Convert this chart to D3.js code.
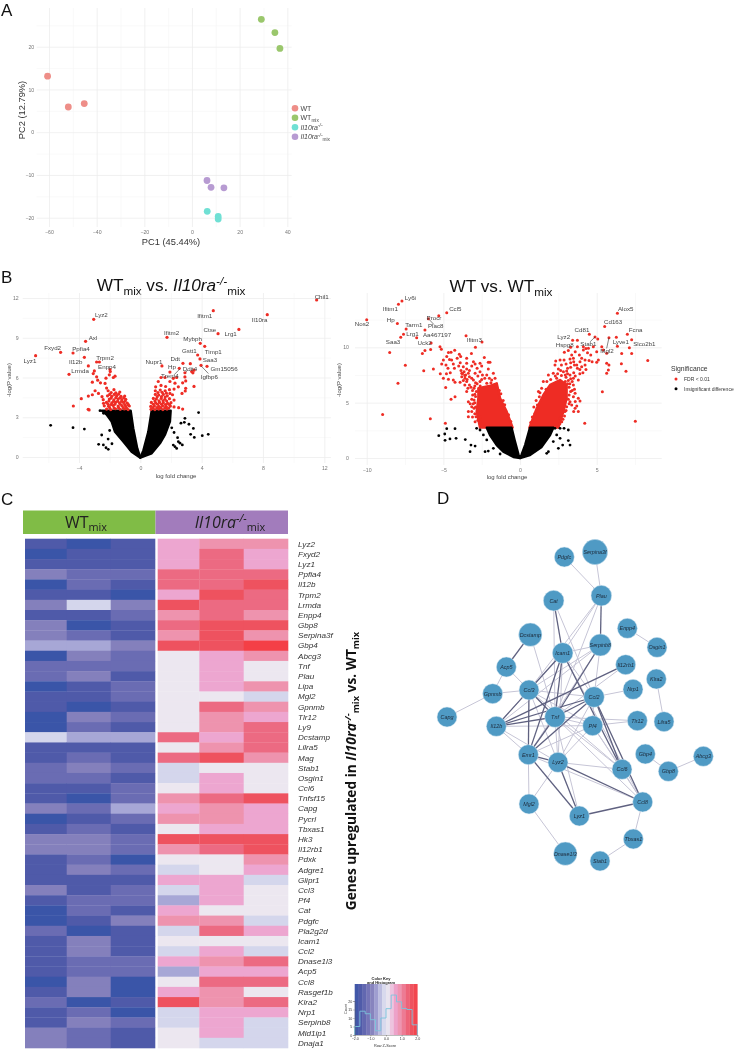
<!DOCTYPE html>
<html><head><meta charset="utf-8">
<script src="https://cdnjs.cloudflare.com/ajax/libs/d3/7.8.5/d3.min.js"></script>
<style>
html,body{margin:0;padding:0;background:#fff}
svg{display:block;filter:blur(0.4px)}
text{font-family:"Liberation Sans",Arial,sans-serif}
</style></head><body><svg id="c" width="737" height="1050"></svg>
<script>
/* ---------- Panel A data ---------- */
const pcaNames = ["WT","WTmix","Il10ra-/-","Il10ra-/-mix"];
const pcaColors = ["#ee8e88","#9ac76c","#70e0d4","#b79bd2"];
const pcaWT = [[-60.6,13.1],[-51.9,5.9],[-45.2,6.7]];
const pcaWTmix = [[29.1,26.4],[34.8,23.3],[36.9,19.6]];
const pcaKO = [[6.4,-18.5],[11.0,-19.7],[11.0,-20.3]];
const pcaKOmix = [[6.3,-11.3],[8.0,-12.9],[13.4,-13.0]];

/* ---------- Panel B left ---------- */
const v1LabelNames = ["Chil1","Il10ra","Ifitm1","Lrg1","Ctse","Lyz2","Axl","Fxyd2","Ppfia4","Lyz1","Il12b","Trpm2","Enpp4","Lrmda","Ifitm2","Mybph","Timp1","Gstt1","Ddt","Nupr1","Hp","Saa3","Ddit4","Gm15056","Igfbp6","Trem4"];
const v1LabelX = [11.83,7.78,4.2,5.89,4.54,-2.54,-3.09,-5.72,-3.87,-7.2,-4.22,-2.3,-2.17,-3.93,2.04,3.41,4.76,3.2,2.28,0.89,2.07,4.54,3.24,5.46,4.5,1.93];
const v1LabelY = [12.09,10.39,10.69,9.26,9.61,10.72,9.0,8.25,8.2,7.27,7.17,7.52,6.79,6.52,9.38,8.9,7.97,8.0,7.4,7.2,6.79,7.3,6.67,6.69,6.06,6.09];
const v1Red = [[11.5,11.85],[8.28,10.74],[4.76,11.04],[6.43,9.63],[5.07,9.31],[-3.04,10.39],[-3.57,8.73],[-5.2,7.9],[-4.39,7.85],[-6.83,7.65],[-3.65,7.52],[-3.39,6.87],[-2.85,7.17],[-2.67,7.17],[-4.65,6.24],
[-3.0,6.5],[-3.07,6.3],[-1.98,6.6],[-1.96,6.45],[-2.02,6.2],[-1.65,6.1],[-1.76,6.0],[-2.24,5.95],[-2.85,6.05],[-2.78,5.8],[-2.6,5.6],[-3.13,5.65],[-2.3,5.55],[-2.2,5.2],[-2.95,5.0],[-3.13,4.7],[-3.39,4.6],[-3.85,4.4],[-4.37,3.85],[-3.4,3.6],[-3.34,3.55],[-2.73,4.8],[-2.5,4.55],[-2.4,4.05],
[-2.2,3.62],[-1.93,3.58],[-1.62,3.64],[-1.31,3.6],[-1.04,3.63],[-0.8,3.58],[-2.35,3.86],[-2.07,3.83],[-1.76,3.88],[-1.45,3.84],[-1.2,3.87],[-0.95,3.83],[-0.72,3.85],[-2.21,4.12],[-1.86,4.08],[-1.6,4.13],[-1.36,4.09],[-1.1,4.12],[-0.85,4.06],[-2.42,4.33],[-2.02,4.37],[-1.72,4.32],[-1.45,4.38],[-1.2,4.33],[-0.95,4.36],[-2.14,4.62],[-1.86,4.58],[-1.54,4.63],[-1.26,4.57],[-1.02,4.6],[-1.9,4.86],[-1.6,4.84],[-1.34,4.9],[-2.1,5.0],[-1.72,5.08],
[-2.0,3.72],[-1.72,3.7],[-1.42,3.72],[-1.12,3.72],[-0.9,3.7],[-2.1,3.98],[-1.9,3.96],[-1.66,3.98],[-1.3,3.98],[-1.02,3.96],[-0.78,3.95],[-2.05,4.22],[-1.75,4.2],[-1.48,4.22],[-1.22,4.2],[-0.98,4.22],[-1.9,4.45],[-1.6,4.48],[-1.32,4.46],[-1.08,4.48],[-2.0,4.72],[-1.7,4.72],[-1.42,4.74],
[1.41,6.87],[1.93,6.41],[2.54,6.69],[2.78,7.07],[3.26,7.04],[3.74,7.7],[3.89,7.4],[3.96,6.92],[4.35,6.84],[4.2,8.35],[3.91,8.58],[1.74,9.03],[3.35,6.45],[3.5,6.55],[3.43,6.35],[2.91,6.36],[2.15,5.94],[2.37,6.0],[2.91,6.04],[2.96,5.74],[2.76,5.6],[3.5,5.33],[2.96,5.18],[2.93,4.98],[2.72,4.8],[1.35,6.0],[1.61,6.0],[1.17,5.7],[1.93,5.7],[2.26,5.57],[2.48,5.3],[2.2,5.13],[1.93,4.8],[2.5,3.72],[2.76,3.62],
[1.0,5.3],[1.35,5.4],[1.65,5.32],[0.98,5.0],[1.3,5.05],[1.62,5.0],[1.9,5.08],[2.1,4.7],[0.98,4.72],[1.2,4.68],[1.5,4.72],[1.76,4.62],[0.85,4.42],[1.05,4.38],[1.36,4.42],[1.6,4.36],[1.9,4.4],[2.2,4.3],[0.72,4.12],[1.0,4.08],[1.25,4.12],[1.5,4.1],[1.78,4.05],[2.0,4.1],[0.68,3.82],[0.92,3.85],[1.2,3.82],[1.45,3.86],[1.7,3.8],[1.96,3.84],[2.2,3.78],[0.7,3.6],[0.95,3.58],[1.2,3.62],[1.47,3.58],[1.74,3.62],
[0.82,3.72],[1.08,3.72],[1.33,3.72],[1.6,3.72],[1.85,3.7],[0.85,3.98],[1.12,3.98],[1.38,3.98],[1.64,3.96],[1.9,3.96],[0.95,4.22],[1.22,4.24],[1.48,4.24],[1.72,4.22],[1.1,4.55],[1.38,4.56],[1.62,4.52],[1.15,4.86],[1.42,4.88],[1.7,4.82]];
const v1Black = [[-5.85,2.39],[-4.39,2.21],[-3.65,2.11],[-2.72,0.96],[-2.52,1.66],[-2.41,0.91],[-2.24,0.7],[-2.09,0.58],[-2.63,3.5],[-2.4,3.3],[3.8,3.35],[2.91,2.92],[2.87,2.62],[2.65,2.55],[3.17,2.47],[3.46,2.16],[3.28,1.71],[3.52,1.48],[4.04,1.61],[4.43,1.71],[2.43,1.46],[2.48,1.16],[2.59,1.04],[2.74,0.91],[2.26,0.78],[2.37,0.65],[2.15,0.9],[-2.0,2.0],[-2.1,1.35],[-1.85,1.0],[2.05,2.2],[2.2,1.85]];
const v1MassX = [-2.52,-2.2,-1.87,-1.65,-1.1,-0.57,0,-0.2,-0.46,-0.63];
const v1MassY = [3.5,3.2,2.67,1.9,1.15,0.4,-0.05,0.65,2.16,3.5];
const v1MassRX = [0.74,0.52,0.2,0,0.74,1.28,1.6,1.93,1.98];
const v1MassRY = [3.5,1.9,0.5,-0.05,0.28,1.03,1.66,2.67,3.5];
const v1Leaders = [[2.2,6.2,2.58,6.65],[3.96,6.88,4.44,6.3],[3.1,6.55,2.95,6.4]];

/* ---------- Panel B right ---------- */
const v2LabelNames = ["Ly6i","Ifitm1","Ccl5","Nos2","Hp","Procr","Tarm1","Plac8","Lrg1","Aa467197","Saa3","Uck2","Ifitm3","Alox5","Cd163","Cd81","Fcna","Lyz2","Lyve1","Slco2b1","Hspg8","Stab1","Mgl2"];
const v2LabelX = [-7.15,-8.46,-4.22,-10.3,-8.43,-5.61,-6.93,-5.5,-7.02,-5.41,-8.28,-6.22,-2.98,6.89,6.07,4.04,7.54,2.85,6.57,8.11,2.91,4.46,5.67];
const v2LabelY = [14.49,13.46,13.52,12.08,12.47,12.62,12.05,11.9,11.2,11.17,10.45,10.42,10.63,13.46,12.26,11.57,11.54,10.99,10.45,10.27,10.21,10.3,9.7];
const v2Red = [[-7.7,14.19],[-7.93,13.89],[-4.78,13.13],[-10,12.5],[-8,12.14],[-5.3,12.86],[-5.98,12.59],[-7.43,11.66],[-6.2,11.57],[-7.6,11.17],[-7.78,10.9],[-8.5,9.52],[-6.74,10.87],[-5.8,10.39],[-3.52,11.05],[-2.48,10.48],[-2.91,10],[-5.22,10.06],[-5.13,9.82],[-5.83,9.79],[-6.2,9.7],[-6.37,9.43],[-3.17,9.43],[-7.48,8.37],[-7.96,6.75],[-8.96,3.92],[-5.85,3.55],[-4.87,3.13],[-6.28,7.89],[-5.65,8.04],
[-4.78,9.16],[-4.5,9.55],[-4.26,9.73],[-4.67,9.52],[-5,8.86],[-5.11,8.49],[-4.83,8.4],[-4.46,8.86],[-4.35,8.49],[-4.28,8.1],[-3.96,9.37],[-3.87,9.16],[-3.48,9],[-2.33,9.07],[-2.61,8.55],[-2.07,8.64],[-1.96,8.64],[-3.04,8.7],[-2.93,8.49],[-3.48,8.55],[-3.7,8.25],[-3.48,8.04],[-3.65,7.8],[-3.37,7.65],[-2.93,7.65],[-2.61,7.8],[-2.17,7.5],[-1.74,7.65],[-2.07,8.04],[-5,7.2],[-4.67,7.11],[-4.35,7.05],[-4.24,6.84],[-3.91,6.84],[-3.48,6.9],[-3.59,7.2],[-3.8,7.35],[-3.04,7.05],[-2.61,6.9],[-2.17,6.75],[-1.85,7.05],[-1.63,7.2],[-4.85,6.36],[-4.24,5.54],[-4.5,5.3],[-3.48,6],[-3.09,5.69],[-3,5.24],[-3.37,5.09],[-3.15,4.64],[-3.37,4.19],[-3.37,3.73],[-3,4.49],[-2.72,4.19],[-2.87,3.73],[-2.61,3.28],[-2.93,3.28],[-3.3,7.35],[-3.15,7.2],[-3.55,7.5],[-3.8,7.65],[-3.3,6.6],[-3.0,6.3],[-2.85,6.0],[-2.9,5.55],[-2.95,5.0],
[-3.85,7.9],[-3.75,7.6],[-3.6,7.45],[-3.7,7.0],[-3.45,7.1],[-3.3,7.9],[-3.15,8.3],[-2.8,8.1],[-2.5,8.3],[-2.75,7.4],[-2.45,7.5],[-2.3,7.2],[-2.0,7.2],[-1.9,6.8],[-2.5,7.1],[-2.9,6.8],[-3.2,6.4],[-3.4,6.3],[-3.6,6.6],[-3.1,6.1],[-2.95,5.75],[-3.15,5.3],[-3.25,4.9],[-3.05,4.9],[-2.9,4.6],[-3.15,4.2],[-2.95,4.0],[-3.1,3.7],[-2.75,3.4],[-2.6,3.7],[-2.95,6.5],[-2.8,6.7],[-2.6,6.5],[-1.7,6.3],[-1.55,6.5],[-1.25,5.8],[-1.35,6.1],[-1.1,5.2],[-1.0,4.8],[-0.75,3.9],[-0.6,3.3],[-3.9,8.6],[-4.0,8.3],[-4.6,8.9],[-4.1,9.0],[-4.7,8.1],[-4.55,7.7],[-4.8,7.6],[-5.2,7.6],
[6.35,13.07],[5.52,11.87],[7,11.17],[7.28,10.69],[6.28,10.9],[5.8,10.87],[4.52,11.17],[4.89,10.93],[3.43,10.63],[3.74,10.63],[3.74,10.06],[4.13,10.06],[5.07,10.75],[7.13,9.97],[6.35,10.09],[7.28,9.43],[6.63,9.43],[8.33,8.8],[6.61,8.52],[6.91,7.83],[7.52,3.31],[4.22,3.13],[5.37,5.99],
[1.52,6.9],[1.85,7.5],[2.17,7.65],[2.39,7.2],[1.41,6.3],[1.26,5.54],[1.13,4.79],[0.98,4.04],[2.33,8.77],[2.28,8.4],[2.5,8.04],[2.61,8.86],[2.87,8.86],[3.26,8.95],[2.89,9.55],[3.15,9.7],[3.37,9.31],[3.48,9],[2.83,7.8],[3.04,7.86],[3.26,7.5],[3.48,7.2],[3.7,8.4],[3.91,8.7],[3.74,8.1],[4.02,9],[4.24,8.86],[4.02,8.25],[4.24,8.4],[3.87,9.31],[4.13,9.76],[4.46,9.91],[4.61,9.31],[4.78,10.06],[5,9.6],[5.33,10.06],[5.43,9.76],[5.65,9.46],[5.11,8.86],[5,8.64],[5.65,8.55],[5.8,8.4],[5.76,7.95],[5.65,7.65],[3.8,7.05],[3.48,6.6],[3.59,5.84],[3.8,5.39],[3.91,5.15],[3.48,5.54],[3.37,4.79],[3.59,4.49],[3.8,4.19],[3.26,5.09],[3.04,4.64],[2.93,4.19],[2.72,3.28],[2.61,3.6],[3.15,7.0],[3.2,6.4],[3.3,6.0],[2.95,6.9],[2.7,7.45],[3.0,7.3],[3.55,8.4],[3.3,8.2],[3.1,8.1],
[1.2,6.0],[1.3,5.9],[1.05,5.2],[0.9,4.6],[0.8,3.7],[0.7,3.2],[1.7,6.2],[1.75,6.9],[2.0,7.1],[2.3,7.4],[2.45,7.6],[2.65,7.9],[2.95,7.5],[3.1,7.6],[3.3,7.15],[3.4,6.9],[3.1,6.7],[3.25,6.7],[3.55,6.2],[3.4,6.1],[3.2,5.7],[3.15,5.3],[3.2,4.9],[3.0,4.3],[2.9,3.8],[2.8,3.5],[2.6,3.1],[3.5,7.7],[3.6,7.4],[3.9,7.6],[4.1,7.7],[2.7,8.4],[3.0,8.5],[3.3,8.6],[3.5,8.7],[3.9,8.0],[4.3,8.0],[4.5,8.8],[4.7,8.7],[4.4,9.5],[4.3,9.9],[3.6,9.6],[3.3,10.0],[3.6,5.1],[3.7,4.7],[3.5,4.2]];
const v2RedMassLX = [-2.72,-2.0,-1.52,-1.3,-0.87,-0.48,-2.61,-2.83,-2.72];
const v2RedMassLY = [6.3,6.5,6.75,5.4,4.19,2.74,2.74,4.19,5.4];
const v2RedMassRX = [0.61,1.09,1.52,1.96,2.61,3.04,3.04,2.83,2.5];
const v2RedMassRY = [2.74,4.49,5.69,6.6,7.05,6.6,5.39,4.19,2.74];
const v2Black = [[-5.3,2.02],[-4.91,2.17],[-4.78,2.65],[-4.24,2.65],[-4.89,1.6],[-4.57,1.72],[-4.17,1.78],[-3.57,1.66],[-3.2,1.17],[-2.93,1.08],[-3.26,0.57],[-2.28,0.57],[-2.07,0.63],[-2.83,2.68],[-2.61,2.53],[-2.39,2.08],[-2.17,1.63],[-1.74,0.87],[-1.3,0.36],[2.28,2.68],[2.61,2.68],[2.87,2.68],[3.15,2.53],[3.15,1.57],[3.26,1.17],[2.78,1.17],[2.5,0.87],[1.85,0.57],[1.74,0.42],[2.17,1.48],[2.39,2.08],[2.61,1.78]];
const v2MassLX = [-2.17,-1.96,-1.52,-1.09,-0.43,0,-0.1,-0.35,-0.55];
const v2MassLY = [2.74,2.08,1.17,0.57,0.09,0,0.3,1.6,2.74];
const v2MassRX = [0.65,0.33,0.1,0,0.65,1.41,1.96,2.17];
const v2MassRY = [2.74,1.17,0.3,0,0.27,1.0,2.08,2.74];
const v2Leaders = [[-5.98,12.59,-5.61,12.05],[4.89,10.93,4.57,10.5],[5.8,10.87,5.65,9.9]];

/* ---------- Panel C data ---------- */
const D=-1.83,M=-1.5,L=-1.17,K=-0.83,J=-0.5,I=-0.17,W=0.17,P=0.5,R=0.83,C=1.17,E=1.5,F=1.83;
const heatColors = ["#3a55a8","#4f5aa9","#6a6cb3","#8480bc","#a7a7d6","#d4d6ec","#ece7f0","#eda6d0","#ee93ae","#ec6a82","#ee525f","#f43f46"];
const heatGenes = ["Lyz2","Fxyd2","Lyz1","Ppfia4","Il12b","Trpm2","Lrmda","Enpp4","Gbp8","Serpina3f","Gbp4","Abcg3","Tnf","Plau","Lipa","Mgl2","Gpnmb","Tlr12","Ly9","Dcstamp","Lilra5","Mag","Stab1","Osgin1","Ccl6","Tnfsf15","Capg","Pycrl","Tbxas1","Hk3","Il12rb1","Pdxk","Adgre1","Glipr1","Ccl3","Pf4","Cat","Pdgfc","Pla2g2d","Icam1","Ccl2","Dnase1l3","Acp5","Ccl8","Rasgef1b","Klra2","Nrp1","Serpinb8","Mid1ip1","Dnaja1"];
const heatWT = [[M,D,M],[D,M,M],[M,M,M],[K,L,L],[D,L,M],[M,M,D],[K,I,K],[M,M,L],[K,D,M],[K,L,M],[J,J,K],[D,K,L],[L,L,L],[L,K,M],[D,M,L],[M,M,L],[M,D,M],[D,K,L],[D,L,M],[I,J,J],[M,M,M],[M,L,M],[L,K,L],[L,L,M],[M,M,L],[M,D,L],[K,L,J],[D,M,L],[M,L,M],[K,K,L],[K,K,L],[M,L,D],[M,K,L],[M,M,M],[K,M,L],[M,L,L],[D,L,M],[D,M,K],[L,D,M],[M,K,M],[M,K,M],[M,L,L],[M,L,L],[D,K,D],[M,K,D],[L,D,M],[M,L,D],[M,K,L],[K,L,M],[K,L,M]];
const heatKO = [[P,R,R],[P,C,P],[P,C,P],[C,C,C],[C,C,E],[P,E,C],[E,C,C],[R,C,R],[C,E,E],[R,E,R],[E,E,F],[W,P,R],[W,P,W],[W,P,W],[W,P,R],[W,W,I],[W,C,R],[W,R,P],[W,R,C],[C,P,C],[W,R,C],[C,E,R],[I,W,W],[I,P,W],[W,P,W],[R,C,E],[P,R,P],[R,R,P],[W,P,P],[E,E,E],[R,C,E],[W,W,R],[I,W,P],[P,P,I],[I,P,W],[J,P,W],[P,W,W],[R,R,I],[I,C,P],[W,W,W],[I,P,I],[P,R,C],[J,P,P],[W,C,C],[P,R,W],[E,R,C],[I,P,P],[I,P,I],[W,P,I],[W,I,I]];
const keyTicks = [-2,-1,0,1,2];
const keyCountTicks = [0,5,10,15,20];
const keyBinEdges = [-2,-1.67,-1.33,-1,-0.67,-0.33,0,0.33,0.67,1,1.33,1.67,2];
const keyCounts = [5,14,12.5,9,2.5,10,15.5,23.5,19.5,15.6,15,6];

/* ---------- Panel D data ---------- */
const nodeNames = ["Pdgfc","Serpina3f","Plau","Cat","Enpp4","Osgin1","Dcstamp","Serpinb8","Icam1","Il12rb1","Klra2","Acp5","Ccl3","Ccl2","Nrp1","Gpnmb","Capg","Tnf","Il12b","Pf4","Tlr12","Lilra5","Emr1","Lyz2","Gbp4","Gbp8","Abcg3","Ccl6","Ccl8","Mgl2","Lyz1","Tbxas1","Dnase1l3","Stab1"];
const nodeX = [433,525,544,401,622,711,331,541,428,617,709,259,327,522,639,218,81,405,229,518,652,732,325,414,676,745,850,606,668,327,478,640,436,540];
const nodeY = [81,66,197,212,295,352,314,345,369,404,447,411,480,501,478,491,561,561,589,587,572,575,674,697,672,724,679,718,816,822,858,927,971,993];
const nodeSize = [30,38,31,31,30,30,35,33,31,30,30,30,30,31,30,30,30,31,30,30,30,30,30,30,30,30,30,30,30,30,30,30,35,30];
const edgesLight = ["Pdgfc-Plau","Serpina3f-Plau","Plau-Icam1","Plau-Tnf","Plau-Ccl3","Cat-Tnf","Cat-Ccl2","Enpp4-Osgin1","Dcstamp-Tnf","Serpinb8-Ccl2","Serpinb8-Ccl3","Serpinb8-Emr1","Serpinb8-Il12b","Serpinb8-Icam1","Icam1-Ccl2","Icam1-Ccl3","Icam1-Lyz2","Il12rb1-Tnf","Klra2-Lilra5","Acp5-Gpnmb","Acp5-Ccl3","Ccl3-Gpnmb","Ccl3-Ccl2","Ccl3-Il12b","Ccl3-Lyz2","Ccl3-Pf4","Ccl3-Ccl6","Ccl2-Lyz2","Ccl2-Nrp1","Ccl2-Pf4","Capg-Gpnmb","Tnf-Lyz2","Tnf-Pf4","Tnf-Tlr12","Tnf-Ccl6","Tnf-Ccl8","Tnf-Lyz1","Il12b-Pf4","Il12b-Emr1","Il12b-Lyz2","Pf4-Tlr12","Pf4-Emr1","Pf4-Lyz2","Pf4-Ccl6","Pf4-Ccl8","Emr1-Mgl2","Lyz2-Ccl6","Lyz2-Mgl2","Gbp4-Gbp8","Gbp8-Abcg3","Ccl6-Ccl8","Ccl8-Tbxas1","Mgl2-Dnase1l3","Tbxas1-Stab1","Icam1-Ccl8","Emr1-Ccl8"];
const edgesDark = ["Plau-Serpinb8","Cat-Icam1","Dcstamp-Acp5","Serpinb8-Tnf","Icam1-Tnf","Icam1-Il12b","Icam1-Emr1","Icam1-Ccl6","Il12rb1-Il12b","Ccl3-Tnf","Ccl3-Emr1","Ccl2-Tnf","Ccl2-Il12b","Ccl2-Emr1","Ccl2-Ccl6","Ccl2-Ccl8","Tnf-Il12b","Tnf-Emr1","Emr1-Lyz2","Emr1-Lyz1","Lyz2-Ccl8","Lyz2-Lyz1","Ccl8-Lyz1"];

/* ---------- helpers ---------- */
const svg = d3.select("#c");
function rich(g, x, y, parts, o) {
  const t = g.append("text").attr("x", x).attr("y", y).attr("fill", o.fill || "#222")
    .attr("font-size", o.size).attr("text-anchor", o.anchor || "start");
  if (o.weight) t.attr("font-weight", o.weight);
  if (o.family) t.style("font-family", o.family);
  if (o.rotate) t.attr("transform", `rotate(${o.rotate} ${x} ${y})`);
  let shift = 0;
  parts.forEach(p => {
    const s = t.append("tspan").text(p.t);
    if (p.i) s.attr("font-style", "italic");
    const target = p.sub ? o.size * 0.22 : p.sup ? -o.size * 0.34 : 0;
    s.attr("dy", target - shift); shift = target;
    if (p.sub || p.sup) s.attr("font-size", o.size * 0.68);
  });
  return t;
}
const panel = (txt, x, y) => svg.append("text").attr("x", x).attr("y", y).attr("font-size", 17).attr("fill", "#111").text(txt);
function grid(g, x, y, top, bottom, left, right, xMaj, xMin, yMaj, yMin, xPad, yPad) {
  const ag = g.append("g");
  const vx = ag.append("g").attr("transform", `translate(0,${bottom})`).call(d3.axisBottom(x).tickValues(xMin).tickSize(top - bottom).tickFormat(""));
  const hy = ag.append("g").attr("transform", `translate(${left},0)`).call(d3.axisLeft(y).tickValues(yMin).tickSize(left - right).tickFormat(""));
  [vx, hy].forEach(s => { s.select(".domain").remove(); s.selectAll("line").attr("stroke", "#f7f7f7").attr("stroke-width", 0.7); });
  const vM = ag.append("g").attr("transform", `translate(0,${bottom})`).call(d3.axisBottom(x).tickValues(xMaj).tickSize(top - bottom).tickPadding(xPad));
  const hM = ag.append("g").attr("transform", `translate(${left},0)`).call(d3.axisLeft(y).tickValues(yMaj).tickSize(left - right).tickPadding(yPad));
  [vM, hM].forEach(s => { s.select(".domain").remove(); s.selectAll("line").attr("stroke", "#eeeeee").attr("stroke-width", 0.8); s.selectAll("text").attr("fill", "#777").attr("font-size", 5.2); });
}
function dots(g, data, x, y, r, col) {
  g.append("g").selectAll("circle").data(data).join("circle").attr("cx", d => x(d[0])).attr("cy", d => y(d[1])).attr("r", r).attr("fill", col);
}
function poly(g, xs, ys, x, y, col) {
  const line = d3.line().x(i => x(xs[i])).y(i => y(ys[i]));
  g.append("path").attr("d", line(d3.range(xs.length)) + "Z").attr("fill", col).attr("stroke", col).attr("stroke-width", 2.4).attr("stroke-linejoin", "round");
}
function labels(g, names, xs, ys, x, y) {
  g.append("g").selectAll("text").data(names).join("text").attr("x", (d, i) => x(xs[i])).attr("y", (d, i) => y(ys[i])).attr("dy", "0.35em").attr("text-anchor", "middle").attr("font-size", 6.2).attr("fill", "#444").text(d => d);
}
function leaders(g, list, x, y) {
  g.append("g").selectAll("line").data(list).join("line").attr("x1", d => x(d[0])).attr("y1", d => y(d[1])).attr("x2", d => x(d[2])).attr("y2", d => y(d[3])).attr("stroke", "#333").attr("stroke-width", 0.6);
}

/* ---------- Panel A ---------- */
panel("A", 1, 15.6);
{
  const g = svg.append("g");
  const x = d3.scaleLinear().domain([-60, 40]).range([49, 287.3]);
  const y = d3.scaleLinear().domain([-20, 20]).range([217.7, 46.7]);
  grid(g, x, y, 8, 227, 36.7, 291.7, [-60,-40,-20,0,20,40], [-50,-30,-10,10,30], [-20,-10,0,10,20], [-15,-5,5,15,25], 3, 2.5);
  [pcaWT, pcaWTmix, pcaKO, pcaKOmix].forEach((s, i) => dots(g, s, x, y, 3.4, pcaColors[i]));
  rich(g, 171, 245, [{t:"PC1 (45.44%)"}], {size:9.3, anchor:"middle", fill:"#333"});
  rich(g, 24.5, 110, [{t:"PC2 (12.79%)"}], {size:9.3, anchor:"middle", fill:"#333", rotate:-90});
  const ly = d3.scaleBand().domain(pcaNames).range([103.5, 141.5]);
  const lp = [[{t:"WT"}],[{t:"WT"},{t:"mix",sub:1}],[{t:"Il10ra",i:1},{t:"-/-",i:1,sup:1}],[{t:"Il10ra",i:1},{t:"-/-",i:1,sup:1},{t:"mix",sub:1}]];
  pcaNames.forEach((n, i) => {
    const cy = ly(n) + ly.bandwidth() / 2;
    g.append("circle").attr("cx", 295).attr("cy", cy).attr("r", 3.3).attr("fill", pcaColors[i]);
    rich(g, 300.5, cy + 2.4, lp[i], {size:7, fill:"#444"});
  });
}

/* ---------- Panel B ---------- */
panel("B", 1, 283);
rich(svg, 171, 291, [{t:"WT"},{t:"mix",sub:1},{t:" vs. "},{t:"Il10ra",i:1},{t:"-/-",i:1,sup:1},{t:"mix",sub:1}], {size:17.2, anchor:"middle", fill:"#111"});
rich(svg, 501, 292, [{t:"WT vs. WT"},{t:"mix",sub:1}], {size:17.2, anchor:"middle", fill:"#111"});
{
  const g = svg.append("g");
  const x = d3.scaleLinear().domain([-4, 12]).range([79, 324.3]);
  const y = d3.scaleLinear().domain([0, 12]).range([457, 298]);
  grid(g, x, y, 293, 463, 22.7, 331, [-4,0,4,8,12], [-6,-2,2,6,10], [0,3,6,9,12], [1.5,4.5,7.5,10.5], 3, 4);
  poly(g, v1MassX, v1MassY, x, y, "#000");
  poly(g, v1MassRX, v1MassRY, x, y, "#000");
  dots(g, v1Black, x, y, 1.4, "#000");
  dots(g, v1Red, x, y, 1.6, "#ee2c24");
  leaders(g, v1Leaders, x, y);
  labels(g, v1LabelNames, v1LabelX, v1LabelY, x, y);
  rich(g, 176, 478, [{t:"log fold change"}], {size:6, anchor:"middle", fill:"#444"});
  rich(g, 11, 380, [{t:"-log(P value)"}], {size:6, anchor:"middle", fill:"#444", rotate:-90});
}
{
  const g = svg.append("g");
  const x = d3.scaleLinear().domain([-10, 5]).range([366.7, 596.7]);
  const y = d3.scaleLinear().domain([0, 10]).range([458, 347.3]);
  grid(g, x, y, 293, 465, 355, 661.7, [-10,-5,0,5], [-7.5,-2.5,2.5,7.5], [0,5,10], [2.5,7.5,12.5], 3, 6);
  poly(g, v2RedMassLX, v2RedMassLY, x, y, "#ee2c24");
  poly(g, v2RedMassRX, v2RedMassRY, x, y, "#ee2c24");
  poly(g, v2MassLX, v2MassLY, x, y, "#000");
  poly(g, v2MassRX, v2MassRY, x, y, "#000");
  dots(g, v2Black, x, y, 1.4, "#000");
  dots(g, v2Red, x, y, 1.5, "#ee2c24");
  leaders(g, v2Leaders, x, y);
  labels(g, v2LabelNames, v2LabelX, v2LabelY, x, y);
  rich(g, 507, 479, [{t:"log fold change"}], {size:6, anchor:"middle", fill:"#444"});
  rich(g, 341, 380, [{t:"-log(P value)"}], {size:6, anchor:"middle", fill:"#444", rotate:-90});
  rich(g, 671, 371, [{t:"Significance"}], {size:6.8, fill:"#333"});
  g.append("circle").attr("cx", 676).attr("cy", 379).attr("r", 1.5).attr("fill", "#ee2c24");
  g.append("circle").attr("cx", 676).attr("cy", 388.7).attr("r", 1.5).attr("fill", "#000");
  rich(g, 684, 381, [{t:"FDR < 0.01"}], {size:5, fill:"#333"});
  rich(g, 684, 390.7, [{t:"Insignificant difference"}], {size:5, fill:"#333"});
}

/* ---------- Panel C ---------- */
panel("C", 1, 505);
{
  const g = svg.append("g");
  g.append("rect").attr("x", 23).attr("y", 510.5).attr("width", 132.5).attr("height", 23.5).attr("fill", "#80bc46");
  g.append("rect").attr("x", 155.5).attr("y", 510.5).attr("width", 132.5).attr("height", 23.5).attr("fill", "#a27cbc");
  rich(g, 86, 527.5, [{t:"WT"},{t:"mix",sub:1}], {size:16, anchor:"middle", fill:"#222", family:'"Open Sans"'});
  rich(g, 230, 527.5, [{t:"Il10ra",i:1},{t:"-/-",i:1,sup:1},{t:"mix",sub:1}], {size:16, anchor:"middle", fill:"#222", family:'"Open Sans"'});
  const color = d3.scaleQuantize().domain([-2, 2]).range(heatColors);
  const y = d3.scaleBand().domain(heatGenes).range([538.7, 1048]);
  const xW = d3.scaleLinear().domain([0,1,2,3]).range([25,66.7,110.7,155]);
  const xK = d3.scaleLinear().domain([0,1,2,3]).range([157.7,199.3,243.7,288]);
  [[heatWT, xW],[heatKO, xK]].forEach(([tbl, x]) => {
    heatGenes.forEach((gene, r) => {
      g.append("g").selectAll("rect").data(tbl[r]).join("rect")
        .attr("x", (d, c) => x(c)).attr("y", y(gene)).attr("width", (d, c) => x(c + 1) - x(c) + 0.3).attr("height", y.bandwidth() + 0.3).attr("fill", d => color(d));
    });
  });
  g.append("g").selectAll("text").data(heatGenes).join("text").attr("x", 298).attr("y", d => y(d) + y.bandwidth() / 2).attr("dy", "0.35em")
    .attr("font-size", 8.1).attr("font-style", "italic").attr("fill", "#333").text(d => d);
  rich(g, 355.5, 771, [{t:"Genes upregulated in "},{t:"Il10ra",i:1},{t:"-/-",i:1,sup:1},{t:"mix",sub:1},{t:" vs. WT"},{t:"mix",sub:1}], {size:13.7, anchor:"middle", fill:"#111", weight:"bold", rotate:-90, family:'"Open Sans"'});

  // colour key
  const kx = d3.scaleLinear().domain([-2, 2]).range([354.7, 417.3]);
  const ky = d3.scaleLinear().domain([0, 20]).range([1035, 1001]);
  const keyBands = d3.range(-2, 2, 0.25);
  const interp = d3.piecewise(d3.interpolateRgb, heatColors);
  g.append("g").selectAll("rect").data(keyBands).join("rect").attr("x", d => kx(d)).attr("y", 984).attr("width", kx(0.25) - kx(0) + 0.3).attr("height", 51)
    .attr("fill", d => interp((d + 0.125 + 2) / 4));
  const stepPts = [[-2, 0]];
  keyCounts.forEach((c, i) => { stepPts.push([keyBinEdges[i], c], [keyBinEdges[i + 1], c]); });
  stepPts.push([2, 0]);
  g.append("path").attr("d", d3.line().x(d => kx(d[0])).y(d => ky(d[1]))(stepPts)).attr("fill", "none").attr("stroke", "#7cc4dc").attr("stroke-width", 0.9);
  const ax = g.append("g").attr("transform", "translate(0,1035)").call(d3.axisBottom(kx).tickValues(keyTicks).tickSize(1.5).tickPadding(1));
  const ay = g.append("g").attr("transform", "translate(354.7,0)").call(d3.axisLeft(ky).tickValues(keyCountTicks).tickSize(1.5).tickPadding(1));
  [ax, ay].forEach(s => { s.selectAll("text").attr("font-size", 3.6).attr("fill", "#333"); s.selectAll("line").attr("stroke", "#555").attr("stroke-width", 0.4); s.select(".domain").attr("stroke", "#555").attr("stroke-width", 0.4); });
  rich(g, 381, 979.5, [{t:"Color Key"}], {size:4, anchor:"middle", fill:"#222", weight:"bold"});
  rich(g, 381, 983.6, [{t:"and Histogram"}], {size:4, anchor:"middle", fill:"#222", weight:"bold"});
  rich(g, 385, 1047, [{t:"Row Z-Score"}], {size:3.8, anchor:"middle", fill:"#333"});
  rich(g, 346.5, 1009, [{t:"Count"}], {size:3.8, anchor:"middle", fill:"#333", rotate:-90});
}

/* ---------- Panel D ---------- */
panel("D", 437, 504);
{
  const g = svg.append("g");
  const lx = d3.scaleLinear().domain([0, 951]).range([420, 737]);
  const ly = d3.scaleLinear().domain([0, 1140]).range([530, 910]);
  const lr = d3.scaleLinear().domain([0, 951]).range([0, 317]);
  const idx = new Map(nodeNames.map((n, i) => [n, i]));
  const draw = (list, col, w) => g.append("g").selectAll("line").data(list.map(e => e.split("-"))).join("line")
    .attr("x1", d => lx(nodeX[idx.get(d[0])])).attr("y1", d => ly(nodeY[idx.get(d[0])]))
    .attr("x2", d => lx(nodeX[idx.get(d[1])])).attr("y2", d => ly(nodeY[idx.get(d[1])]))
    .attr("stroke", col).attr("stroke-width", w);
  draw(edgesLight, "#c6c5d6", 1);
  draw(edgesDark, "#5f6180", 1.3);
  g.append("g").selectAll("circle").data(nodeNames).join("circle")
    .attr("cx", (d, i) => lx(nodeX[i])).attr("cy", (d, i) => ly(nodeY[i])).attr("r", (d, i) => lr(nodeSize[i]))
    .attr("fill", "#4f9ac4").attr("stroke", "#d8e8f2").attr("stroke-width", 0.5);
  g.append("g").selectAll("text").data(nodeNames).join("text")
    .attr("x", (d, i) => lx(nodeX[i])).attr("y", (d, i) => ly(nodeY[i])).attr("dy", "0.35em").attr("text-anchor", "middle")
    .attr("font-size", 5.4).attr("font-style", "italic").attr("fill", "#1d2a3a").text(d => d);
}
</script></body></html>
